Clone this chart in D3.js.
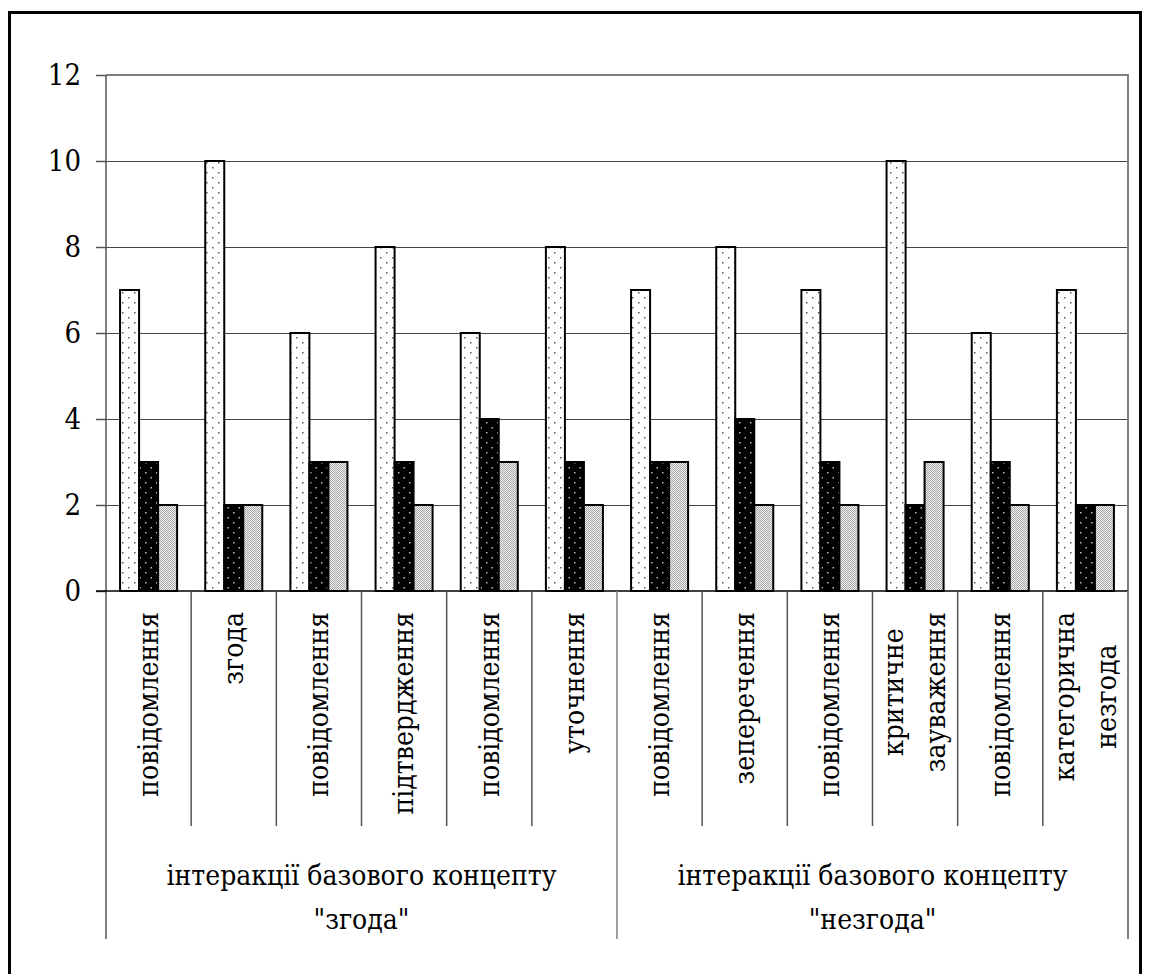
<!DOCTYPE html>
<html><head><meta charset="utf-8">
<script src="https://cdn.jsdelivr.net/npm/d3@7/dist/d3.min.js"></script>
<style>body{margin:0;background:#fff}svg{display:block}
text{font-family:'DejaVu Serif Condensed','DejaVu Serif',serif;font-stretch:condensed;fill:#000}</style>
</head><body>
<svg id="c" width="1149" height="974"></svg>
<script>
const categories = ["повідомлення","згода","повідомлення","підтвердження","повідомлення","уточнення","повідомлення","зеперечення","повідомлення","критичне\nзауваження","повідомлення","категорична\nнезгода"];
const groups = [["інтеракції базового концепту","\"згода\""],["інтеракції базового концепту","\"незгода\""]];
const groupSizes = [6,6];
const series1 = [7,10,6,8,6,8,7,8,7,10,6,7];
const series2 = [3,2,3,3,4,3,3,4,3,2,3,2];
const series3 = [2,2,3,2,3,2,3,2,2,3,2,2];
const yTicks = [0,2,4,6,8,10,12];

const svg = d3.select("#c");
const L = 106, R = 1128, T = 75, B = 591;

const probe = svg.append("text").attr("font-size",30).text(groups[0][0]);
const FS = Math.max(22, Math.min(32, 30*390/probe.node().getComputedTextLength()));
probe.remove();
const TFS = 29;

svg.append("rect").attr("x",9.5).attr("y",12.5).attr("width",1131).attr("height",980)
  .attr("fill","none").attr("stroke","#000").attr("stroke-width",3);

const defs = svg.append("defs");
const p1 = defs.append("pattern").attr("id","p1").attr("patternUnits","userSpaceOnUse").attr("width",12).attr("height",10);
p1.append("rect").attr("width",12).attr("height",10).attr("fill","#fff");
p1.append("rect").attr("x",2).attr("y",2).attr("width",1.5).attr("height",1.5).attr("fill","#555");
p1.append("rect").attr("x",8).attr("y",7).attr("width",1.5).attr("height",1.5).attr("fill","#555");
const p2 = defs.append("pattern").attr("id","p2").attr("patternUnits","userSpaceOnUse").attr("width",11).attr("height",10);
p2.append("rect").attr("width",11).attr("height",10).attr("fill","#000");
p2.append("rect").attr("x",2).attr("y",2).attr("width",1.5).attr("height",1.5).attr("fill","#bbb");
p2.append("rect").attr("x",7.5).attr("y",7).attr("width",1.5).attr("height",1.5).attr("fill","#bbb");
const p3 = defs.append("pattern").attr("id","p3").attr("patternUnits","userSpaceOnUse").attr("width",2).attr("height",2);
p3.append("rect").attr("width",2).attr("height",2).attr("fill","#f0f0f0");
p3.append("rect").attr("x",0).attr("y",0).attr("width",1).attr("height",1).attr("fill","#a8a8a8");
p3.append("rect").attr("x",1).attr("y",1).attr("width",1).attr("height",1).attr("fill","#a8a8a8");

const idx = d3.range(categories.length);
const x0 = d3.scaleBand().domain(idx).range([L,R]).paddingInner(0).paddingOuter(0);
const x1 = d3.scaleBand().domain([0,1,2]).range([0,x0.bandwidth()]).paddingInner(0).paddingOuter(0.74);
const y = d3.scaleLinear().domain([0,12]).range([B,T]);

svg.append("g").selectAll("line").data(yTicks.filter(d=>d>0 && d<12)).join("line")
  .attr("x1",L).attr("x2",R).attr("y1",d=>y(d)+0.5).attr("y2",d=>y(d)+0.5)
  .attr("stroke","#444").attr("stroke-width",1);
svg.append("path").attr("d",`M${L},${y(12)}H${R}V${B}`).attr("fill","none").attr("stroke","#808080").attr("stroke-width",2);

const yAxis = d3.axisLeft(y).tickValues(yTicks).tickSize(10).tickPadding(15);
const ya = svg.append("g").attr("transform",`translate(${L},0)`).call(yAxis);
ya.attr("font-family",null);
ya.select(".domain").remove();
ya.selectAll(".tick line").attr("stroke","#555").attr("stroke-width",1.5);
ya.selectAll(".tick text").attr("font-size",TFS).attr("fill","#000");
svg.append("line").attr("x1",L).attr("x2",L).attr("y1",T).attr("y2",939).attr("stroke","#555").attr("stroke-width",1.5);

const series = [series1,series2,series3];
const fills = ["url(#p1)","url(#p2)","url(#p3)"];
series.forEach((s,si)=>{
  svg.append("g").selectAll("rect").data(s).join("rect")
    .attr("x",(d,i)=>x0(i)+x1(si)).attr("y",d=>y(d))
    .attr("width",x1.bandwidth()).attr("height",d=>B-y(d))
    .attr("fill",fills[si]).attr("stroke","#000").attr("stroke-width",2);
});
svg.append("line").attr("x1",L-10).attr("x2",R).attr("y1",B).attr("y2",B).attr("stroke","#000").attr("stroke-width",1.5);

const divs = d3.range(1,categories.length);
const groupBounds = [0]; groupSizes.reduce((a,b)=>{groupBounds.push(a+b);return a+b;},0);
svg.append("g").selectAll("line").data(divs.filter(i=>!groupBounds.includes(i))).join("line")
  .attr("x1",i=>x0(i)).attr("x2",i=>x0(i)).attr("y1",B).attr("y2",826).attr("stroke","#555").attr("stroke-width",1.5);
svg.append("g").selectAll("line").data(groupBounds.filter(i=>i>0)).join("line")
  .attr("x1",i=>i<categories.length?x0(i):R).attr("x2",i=>i<categories.length?x0(i):R).attr("y1",B).attr("y2",939)
  .attr("stroke","#808080").attr("stroke-width",i=>i<categories.length?1.5:2);

const labTop = 612, lineGap = 42;
categories.forEach((c,i)=>{
  const lines = c.split("\n");
  const cx = x0(i) + x0.bandwidth()/2;
  const g = svg.append("g");
  const t = g.append("text").attr("font-size",FS).attr("text-anchor","middle");
  lines.forEach((ln,k)=>{
    t.append("tspan").attr("x",0).attr("y",(k-(lines.length-1)/2)*lineGap).attr("dy","0.33em").text(ln);
  });
  let maxLen = 0;
  t.selectAll("tspan").each(function(){maxLen=Math.max(maxLen,this.getComputedTextLength());});
  g.attr("transform",`translate(${cx},${labTop+maxLen/2}) rotate(-90)`);
});

groups.forEach((gl,gi)=>{
  const start = groupBounds[gi], end = groupBounds[gi+1];
  const x = (x0(start) + (end<categories.length?x0(end):R))/2;
  const t = svg.append("text").attr("font-size",FS).attr("text-anchor","middle");
  gl.forEach((ln,k)=>t.append("tspan").attr("x",x).attr("y",885+k*44).text(ln));
});
</script>
</body></html>
